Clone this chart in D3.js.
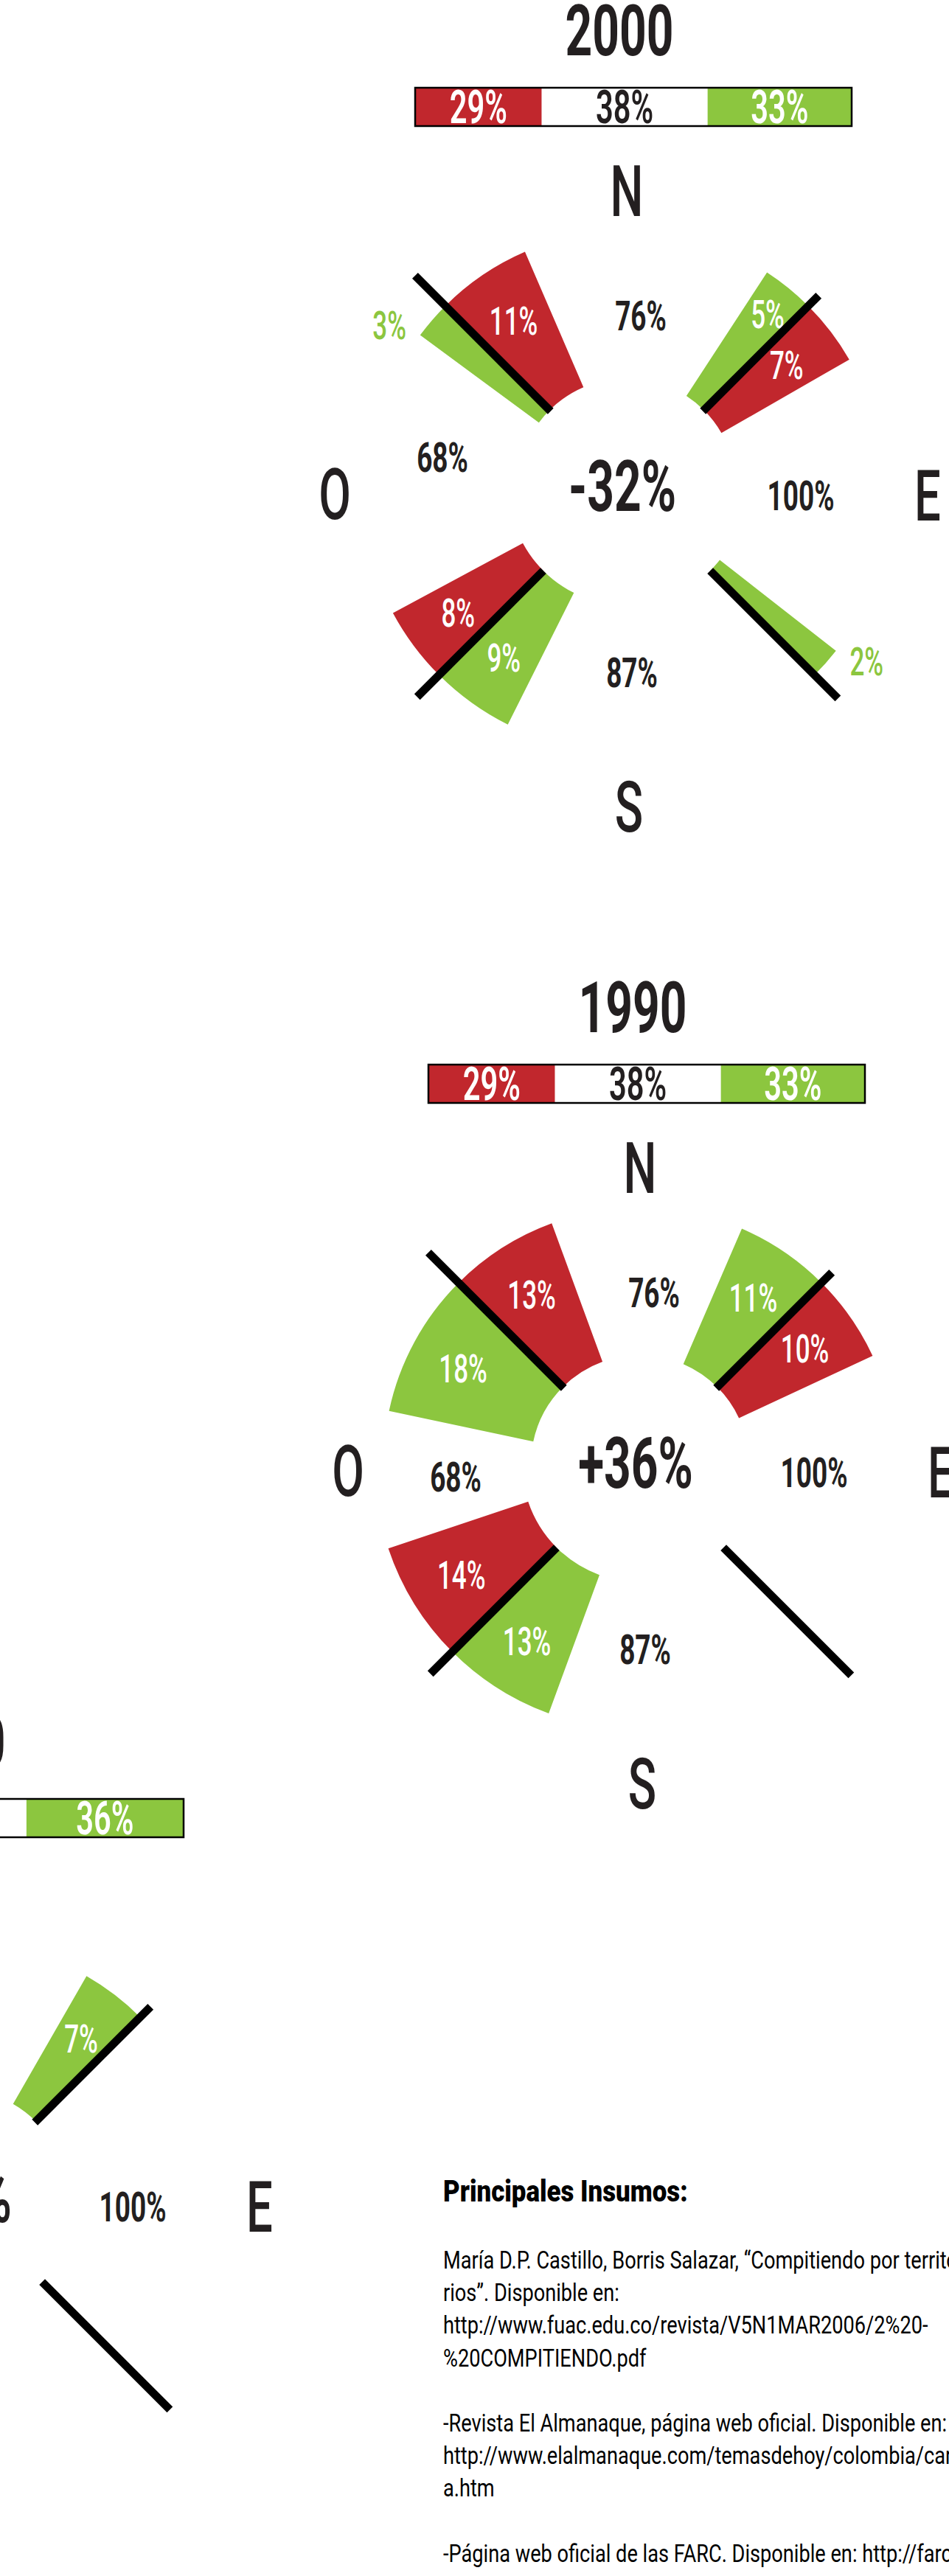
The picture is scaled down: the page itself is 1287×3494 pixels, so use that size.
<!DOCTYPE html>
<html>
<head>
<meta charset="utf-8">
<script src="https://cdnjs.cloudflare.com/ajax/libs/d3/7.8.5/d3.min.js"></script>
<style>
body { margin: 0; background: #fff; }
svg { display: block; background: #fff; }
</style>
</head>
<body>
<svg width="1287" height="3494"></svg>
<script>
// one panel per year, top to bottom (the third one is cut by the page edge)
var years = ["2000", "1990", "1980"];
var barRed = [29, 29, 30];
var barWhite = [38, 38, 34];
var barGreen = [33, 33, 36];
var balance = ["-32%", "+36%", "+14%"];

var regions = ["N", "E", "S", "O"];
var regionShare = [[76, 100, 87, 68], [76, 100, 87, 68], [76, 100, 87, 68]];

// red / green share per diagonal
var quadrants = ["NW", "NE", "SW", "SE"];
var redShare = [[11, 7, 8, 0], [13, 10, 14, 0], [0, 0, 0, 0]];
var greenShare = [[3, 5, 9, 2], [18, 11, 13, 0], [0, 7, 0, 0]];

var sourcesTitle = "Principales Insumos:";
var sources = [
    "María D.P. Castillo, Borris Salazar, “Compitiendo por territo-",
    "rios”. Disponible en:",
    "http://www.fuac.edu.co/revista/V5N1MAR2006/2%20-",
    "%20COMPITIENDO.pdf",
    "",
    "-Revista El Almanaque, página web oficial. Disponible en:",
    "http://www.elalmanaque.com/temasdehoy/colombia/cartografi-",
    "a.htm",
    "",
    "-Página web oficial de las FARC. Disponible en: http://farc-ep.co"
];

function draw() {

    var svg = d3.select("svg");

    var red = "#c1272d",
        green = "#8cc63f",
        ink = "#231f20";

    var font = "Roboto, 'Liberation Sans', 'DejaVu Sans', sans-serif";

    var centers = [[850, 661], [868, 1986], [-56, 2982]];
    var westDy = [-41, 17, 10];

    var quadAngle = {NW: -45, NE: 45, SW: 225, SE: 135};
    var lineOuter = {NW: 406, NE: 368, SW: 402, SE: 405};
    var regionPos = {N: [0, -402], E: [408, 11], S: [3, 433], O: [-396, 9]};
    var valuePos = {N: [19, -233], E: [236, 11], S: [7, 251]};

    var span = d3.scaleLinear().domain([2, 18]).range([7, 33]); // degrees
    var rad = Math.PI / 180;

    var arc = d3.arc();

    function label(g, x, y, str, size, color, weight, squeeze) {
        return g.append("text")
            .attr("transform", "translate(" + x + "," + (y + size * 0.355) + ") scale(" + (squeeze || 0.66) + ",1)")
            .attr("text-anchor", "middle")
            .style("font-family", font)
            .style("font-size", size + "px")
            .style("font-weight", weight || 700)
            .style("fill", color || ink)
            .text(str);
    }

    function polar(r, deg) {
        return [r * Math.sin(deg * rad), -r * Math.cos(deg * rad)];
    }

    years.forEach(function(year, p) {
        var cx = centers[p][0],
            cy = centers[p][1];

        var g = svg.append("g")
            .attr("transform", "translate(" + cx + "," + cy + ")");

        label(g, -10, -620, year, 97, ink, 700);

        // share bar
        var bx = d3.scaleLinear().domain([0, 100]).range([-287, 305]);
        var parts = [
            {v: barRed[p], fill: red, text: "#fff"},
            {v: barWhite[p], fill: "#fff", text: ink},
            {v: barGreen[p], fill: green, text: "#fff"}
        ];
        var acc = 0;
        parts.forEach(function(d) {
            d.x0 = acc;
            acc += d.v;
            d.x1 = acc;
        });

        g.selectAll(".seg")
            .data(parts)
            .enter()
            .append("rect")
            .attr("x", function(d) { return bx(d.x0); })
            .attr("y", -542)
            .attr("width", function(d) { return bx(d.x1) - bx(d.x0); })
            .attr("height", 52)
            .style("fill", function(d) { return d.fill; });

        g.append("rect")
            .attr("x", bx(0))
            .attr("y", -542)
            .attr("width", bx(100) - bx(0))
            .attr("height", 52)
            .style("fill", "none")
            .style("stroke", "#000")
            .style("stroke-width", 2.5);

        parts.forEach(function(d) {
            label(g, (bx(d.x0) + bx(d.x1)) / 2, -516, d.v + "%", 63, d.text, 600);
        });

        // compass letters and region shares
        regions.forEach(function(r, i) {
            label(g, regionPos[r][0], regionPos[r][1], r, 96, ink, 500);
            var pos = r === "O" ? [-250, westDy[p]] : valuePos[r];
            label(g, pos[0], pos[1], regionShare[p][i] + "%", 56, ink, 700);
        });

        label(g, -6, -2, balance[p], 97, ink, 700);

        // wedges on both sides of each diagonal
        var wedges = [];
        quadrants.forEach(function(q, i) {
            var north = q.charAt(0) === "N";
            var r0 = north ? 148 : 160;
            var a = quadAngle[q];
            if (redShare[p][i] > 0) {
                wedges.push({v: redShare[p][i], color: red, a0: a, a1: a + span(redShare[p][i]), r0: r0, side: 1});
            }
            if (greenShare[p][i] > 0) {
                wedges.push({v: greenShare[p][i], color: green, a0: a - span(greenShare[p][i]), a1: a, r0: r0, side: -1});
            }
        });

        g.selectAll(".wedge")
            .data(wedges)
            .enter()
            .append("path")
            .attr("d", function(d) {
                return arc({innerRadius: d.r0, outerRadius: d.r0 + 200, startAngle: d.a0 * rad, endAngle: d.a1 * rad});
            })
            .style("fill", function(d) { return d.color; });

        wedges.forEach(function(d) {
            var pt, col;
            if (d.v <= 3) {
                // too thin for a label inside: put it just past the wedge
                var far = d.side > 0 ? d.a1 + 2 : d.a0 - 2;
                pt = polar(d.r0 + 242, far);
                col = d.color;
            } else {
                pt = polar(d.r0 + 125 + (d.v <= 5 ? 30 : 0), (d.a0 + d.a1) / 2);
                col = "#fff";
            }
            label(g, pt[0], pt[1], d.v + "%", 53, col, 500);
        });

        quadrants.forEach(function(q) {
            var r0 = q.charAt(0) === "N" ? 146 : 160;
            var p0 = polar(r0, quadAngle[q]),
                p1 = polar(lineOuter[q], quadAngle[q]);
            g.append("line")
                .attr("x1", p0[0]).attr("y1", p0[1])
                .attr("x2", p1[0]).attr("y2", p1[1])
                .style("stroke", "#000")
                .style("stroke-width", 11);
        });
    });

    // sources
    var src = svg.append("g");
    src.append("text")
        .attr("transform", "translate(601,2986) scale(0.85,1)")
        .style("font-family", font)
        .style("font-size", "41px")
        .style("font-weight", 900)
        .style("fill", "#000")
        .text(sourcesTitle);

    src.selectAll(".src")
        .data(sources)
        .enter()
        .append("text")
        .attr("transform", function(d, i) {
            return "translate(601," + (3077 + i * 44.2) + ") scale(0.8,1)";
        })
        .style("font-family", font)
        .style("font-size", "34px")
        .style("fill", "#000")
        .text(function(d) { return d; });
} //draw

draw();
</script>
</body>
</html>
